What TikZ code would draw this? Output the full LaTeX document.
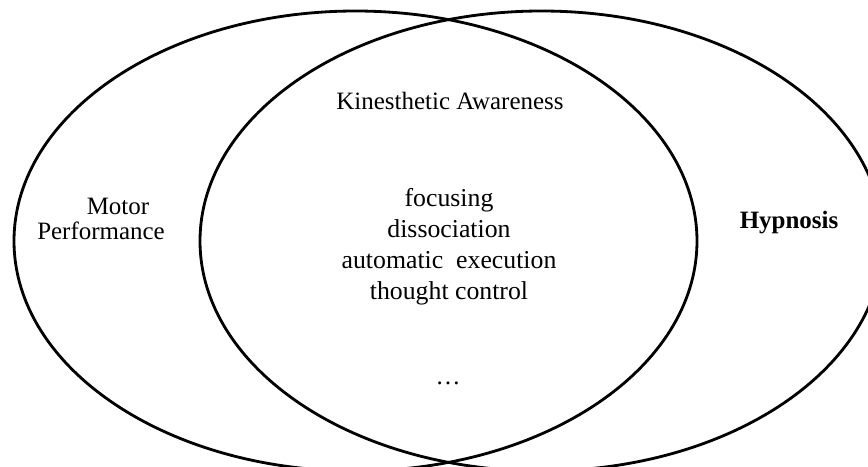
\documentclass[tikz,border=0pt]{standalone}
\usepackage{fontspec}
\setmainfont{Liberation Serif}
\usetikzlibrary{positioning}

\begin{document}
\begin{tikzpicture}[x=0.03cm,y=-0.03cm,
 t/.style={font=\fontsize{21.3}{21.3}\selectfont,inner sep=0pt},
 ring/.style={line width=2.4pt,black}]
\useasboundingbox (0,0) rectangle (868,466);
\begin{scope}
\clip (0,0) rectangle (868,466);
\draw[ring] (355.5,241) ellipse [x radius=341.5,y radius=230];
\draw[ring] (541.5,241) ellipse [x radius=341.5,y radius=230];
\end{scope}
\node[t,anchor=base] (kin) at (450,109) {Kinesthetic Awareness};
\node[t,anchor=base] (motor) at (118,214) {Motor};
\node[t,anchor=base] (perf) at (101,239) {Performance};
\node[t,anchor=base] (hyp) at (789,228) {\bfseries Hypnosis};
\node[t,align=center,font=\fontsize{22}{26.5}\selectfont] (skills) at (449,247)
 {focusing\\dissociation\\automatic\ \ execution\\thought control};
\node[t,anchor=base] (more) at (448,384) {…};
\end{tikzpicture}
\end{document}
